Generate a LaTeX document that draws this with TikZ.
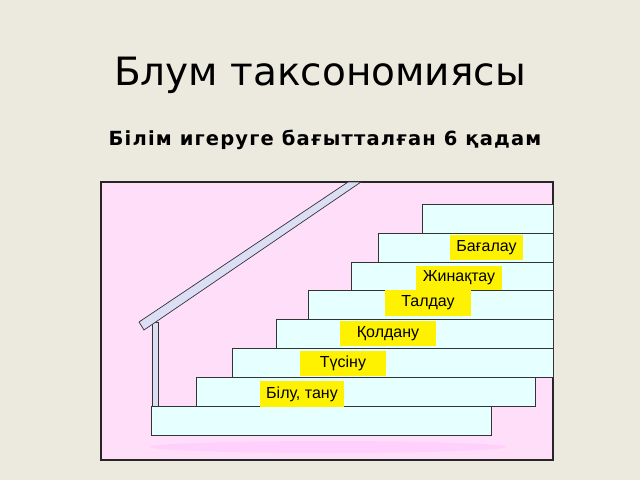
\documentclass[tikz,border=0pt]{standalone}
\usepackage{fontspec}
\setmainfont{DejaVu Sans}
\newfontfamily\lblfont{Liberation Sans}
\definecolor{bgcol}{RGB}{236,233,222}
\definecolor{wallcol}{RGB}{255,222,250}
\definecolor{stepcol}{RGB}{230,255,255}
\definecolor{railcol}{RGB}{220,222,245}
\tikzset{
  stepbox/.style={draw=black!80, line width=0.8pt, fill=stepcol},
  tag/.style={fill=yellow, font=\lblfont\fontsize{16}{16}\selectfont, inner sep=0pt, anchor=center},
}
\begin{document}
\begin{tikzpicture}[x=1pt,y=-1pt]
\fill[bgcol] (0,0) rectangle (640,480);
\useasboundingbox (0,0) rectangle (640,480);
\node (title) at (320,75) {\fontsize{39}{39}\selectfont Блум таксономиясы};
\node (sub) at (325,140) {\fontsize{19.5}{19.5}\selectfont\addfontfeatures{LetterSpace=6}\bfseries Білім игеруге бағытталған 6 қадам};
% wall
\draw[fill=wallcol, line width=2pt, draw=black!85] (101,182) rectangle (553,460);
\fill[wallcol!70!magenta!60, opacity=0.5] (328,447) ellipse (178 and 6);
% railing
\draw[fill=railcol, draw=black!80, line width=0.7pt] (152,322) rectangle (158,406);
\draw[fill=railcol, draw=black!80, line width=0.7pt] (139,322) -- (348,182) -- (361,182) -- (144,330) -- cycle;
% steps, top to bottom
\foreach \xl/\xr/\yt in {422/553/204, 378/553/233, 351/553/262, 308/553/290, 276/553/319, 232/553/348, 196/535/377, 151/491/406}
  \draw[stepbox] (\xl,\yt) rectangle (\xr,\yt+29);
% labels
\node[tag, minimum width=84, minimum height=26] (bilu) at (302,394) {Білу, тану};
\node[tag, minimum width=86, minimum height=25] (tusinu) at (343,363.5) {Түсіну};
\node[tag, minimum width=96, minimum height=25] (qoldanu) at (388,333.5) {Қолдану};
\node[tag, minimum width=86, minimum height=26] (taldau) at (428,303) {Талдау};
\node[tag, minimum width=86, minimum height=24] (zhinaqtau) at (459,278) {Жинақтау};
\node[tag, minimum width=73, minimum height=25] (baghalau) at (486.5,247.5) {Бағалау};
\end{tikzpicture}
\end{document}
